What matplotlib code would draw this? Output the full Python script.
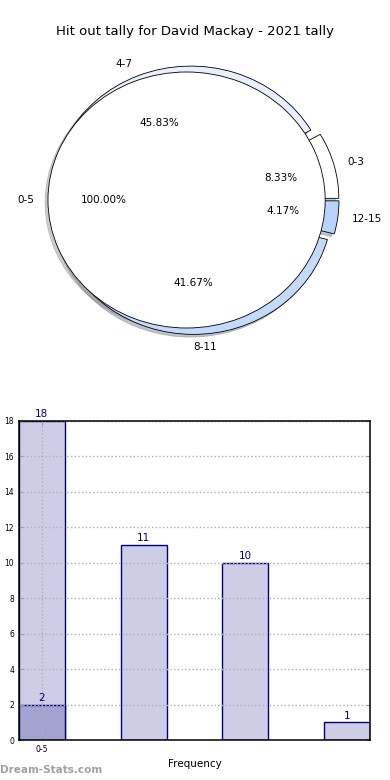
import matplotlib
matplotlib.use('Agg')
import matplotlib.pyplot as plt
import numpy as np

title = 'Hit out tally for David Mackay - 2021 tally'

# outer ring of the pie
ring_labels = ['0-3', '4-7', '8-11', '12-15']
ring_values = [2, 11, 10, 1]
ring_colors = ['#ffffff', '#e8effd', '#c4dafb', '#b8d3fb']

# inner pie
inner_labels = ['0-5']
inner_values = [24]

# bar chart
bar_ticks = ['0-5']
bar_values = [18, 11, 10, 1]
low_values = [2]

fig = plt.figure(figsize=(3.9, 7.8), dpi=100)
fig.text(0.5, 1 - 31/780, title, ha='center', va='center', fontsize=9.5)

ax1 = fig.add_axes([20.25/390, 420/780, 346.5/390, 320/780])
wp = dict(edgecolor='black', linewidth=0.6)
tp = dict(fontsize=7.5)
shadow = dict(ox=-0.015, oy=-0.015, shade=0.5, alpha=0.4)
ax1.pie(ring_values, labels=ring_labels, colors=ring_colors,
        explode=[0.05]*len(ring_values), autopct='%.2f%%', shadow=shadow,
        startangle=0, wedgeprops=wp, textprops=tp)
ax1.pie(inner_values, labels=inner_labels, colors=['white'],
        explode=[0.05], autopct='%.2f%%', shadow=shadow,
        startangle=0, wedgeprops=wp, textprops=tp)
ax1.set_aspect('auto')
ax1.set_xlim(-1.25, 1.25)
ax1.set_ylim(-1.25, 1.25)

ax2 = fig.add_axes([19/390, 40/780, 351/390, 319/780])
x = np.arange(len(bar_values))
w = 0.45
ax2.bar(x, bar_values, w, color='#cdcde6', edgecolor='navy', linewidth=1)
ax2.bar(x[:len(low_values)], low_values, w, color='#a3a3d1', edgecolor='navy', linewidth=1)
for xi, v in zip(x, bar_values):
    ax2.text(xi, v + 0.1, str(v), ha='center', va='bottom', color='navy', fontsize=7.5)
for xi, v in zip(x, low_values):
    ax2.text(xi, v + 0.1, str(v), ha='center', va='bottom', color='navy', fontsize=7.5)

ax2.set_xlim(-w/2, x[-1] + w/2)
ax2.set_ylim(0, 18)
ax2.set_yticks(np.arange(0, 19, 2))
ax2.set_xticks(x[:len(bar_ticks)])
ax2.set_xticklabels(bar_ticks)
ax2.tick_params(labelsize=5.5, direction='in', right=True, top=True, color='#999999', length=3)
ax2.set_axisbelow(False)
ax2.grid(True, linestyle=':', color='#b0b0b0', linewidth=1)
for sp in ax2.spines.values():
    sp.set_linewidth(1.1)
    sp.set_zorder(3)
ax2.set_xlabel('Frequency', fontsize=7.5)
ax2.set_ylabel('Distribution', fontsize=7)

fig.text(0.0, 10/780, 'Dream-Stats.com', ha='left', va='center', fontsize=7.5,
         color='#a0a0a0', fontweight='bold')

fig.savefig('out.png', dpi=100)
